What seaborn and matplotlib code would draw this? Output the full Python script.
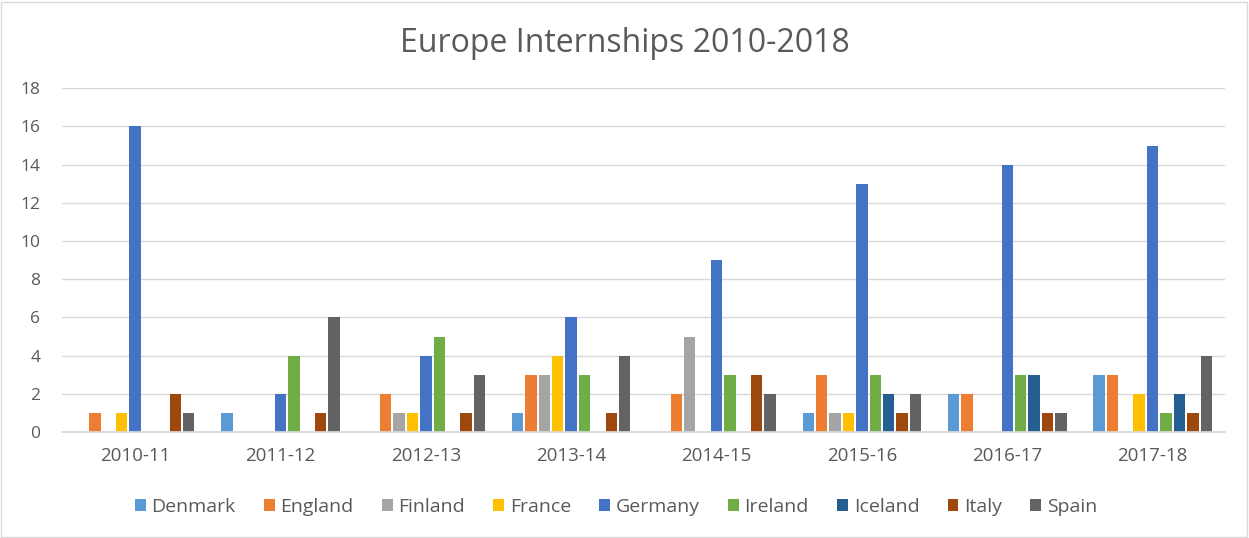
import seaborn as sns
import matplotlib.pyplot as plt
import pandas as pd

# Data
years = ["2010-11", "2011-12", "2012-13", "2013-14", "2014-15", "2015-16", "2016-17", "2017-18"]
countries = ["Denmark", "England", "Finland", "France", "Germany", "Ireland", "Iceland", "Italy", "Spain"]
denmark = [0, 1, 0, 1, 0, 1, 2, 3]
england = [1, 0, 2, 3, 2, 3, 2, 3]
finland = [0, 0, 1, 3, 5, 1, 0, 0]
france = [1, 0, 1, 4, 0, 1, 0, 2]
germany = [16, 2, 4, 6, 9, 13, 14, 15]
ireland = [0, 4, 5, 3, 3, 3, 3, 1]
iceland = [0, 0, 0, 0, 0, 2, 3, 2]
italy = [2, 1, 1, 1, 3, 1, 1, 1]
spain = [1, 6, 3, 4, 2, 2, 1, 4]

colors = ["#5B9BD5", "#ED7D31", "#A5A5A5", "#FFC000", "#4472C4",
          "#70AD47", "#255E91", "#9E480E", "#636363"]

series = [denmark, england, finland, france, germany, ireland, iceland, italy, spain]
rows = []
for c, vals in zip(countries, series):
    for y, v in zip(years, vals):
        rows.append({"Year": y, "Country": c, "Interns": v})
df = pd.DataFrame(rows)

sns.set_theme(style="white")
plt.rcParams["font.family"] = ["Open Sans", "DejaVu Sans"]
text_col = "#595959"

fig = plt.figure(figsize=(12.49, 5.38), dpi=100)
ax = fig.add_axes([0.050, 0.197, 0.931, 0.639])

sns.barplot(data=df, x="Year", y="Interns", hue="Country", order=years,
            hue_order=countries, palette=colors, saturation=1, width=0.83, gap=0.15,
            linewidth=0, errorbar=None, ax=ax)

ax.set_ylim(0, 18)
ax.set_yticks(range(0, 19, 2))
ax.set_xlim(-0.5, len(years) - 0.5)
ax.yaxis.grid(True, color="#D9D9D9", linewidth=1)
ax.set_axisbelow(True)
for s in ["left", "right", "top"]:
    ax.spines[s].set_visible(False)
ax.spines["bottom"].set_color("#D9D9D9")
ax.tick_params(axis="y", length=0, labelsize=12.5, colors=text_col, pad=16)
ax.tick_params(axis="x", length=0, labelsize=13.5, colors=text_col, pad=11)
ax.set_xlabel("")
ax.set_ylabel("")

fig.suptitle("Europe Internships 2010-2018", y=0.95, fontsize=23, color=text_col)

ax.legend(loc="upper center", bbox_to_anchor=(0.476, -0.14), ncol=9, frameon=False,
          fontsize=14, labelcolor=text_col, handlelength=0.55, handleheight=0.6,
          handletextpad=0.3, columnspacing=1.45)

# thin border around the chart
fig.patches.append(plt.Rectangle((0.001, 0.002), 0.997, 0.995, transform=fig.transFigure,
                                 fill=False, edgecolor="#D9D9D9", linewidth=1))

fig.savefig("out.png", dpi=100)
